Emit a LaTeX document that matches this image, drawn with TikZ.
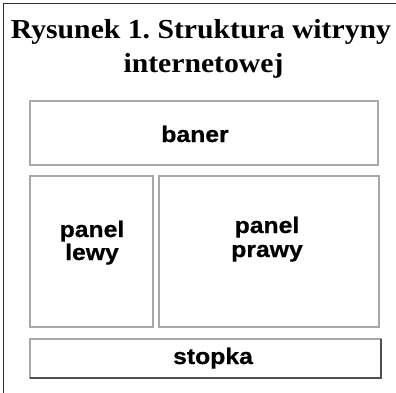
\documentclass[tikz,border=0pt]{standalone}
\usepackage{fontspec}
\setmainfont{Liberation Serif}
\newfontfamily\titlefont[FakeStretch=1.08]{Liberation Serif Bold}
\newfontfamily\boxfont[FakeStretch=1.1,FakeBold=0.6]{Liberation Sans Bold}
\definecolor{boxgray}{HTML}{A8A8A8}
\definecolor{framegray}{HTML}{303030}
\definecolor{darkedge}{HTML}{505050}
\tikzset{
  box/.style={draw=boxgray, line width=1.6pt},
  frame/.style={draw=framegray, line width=1.2pt},
  title/.style={font=\titlefont\frenchspacing\fontsize{27.5}{34}\selectfont, anchor=base, inner sep=0pt},
  lbl/.style={font=\boxfont\fontsize{22.5}{23}\selectfont, anchor=base, inner sep=0pt},
}
\begin{document}
\begin{tikzpicture}[x=1pt,y=-1pt]
\useasboundingbox (0,0) rectangle (396,392);
% outer frame (left and top edges visible)
\draw[frame] (3.5,400) -- (3.5,3.5) -- (400,3.5);
% title
\node[title] (t1) at (201,38) {Rysunek 1. Struktura witryny};
\node[title] (t2) at (203.5,72) {internetowej};
% boxes
\path[box] (30,101) rectangle (378,165);
\node[inner sep=0pt, minimum width=348pt, minimum height=64pt] (baner) at (204,133) {};
\path[box] (30,176) rectangle (153,327);
\node[inner sep=0pt, minimum width=123pt, minimum height=151pt] (lewy) at (91.5,251.5) {};
\path[box] (159,176) rectangle (379,327);
\node[inner sep=0pt, minimum width=220pt, minimum height=151pt] (prawy) at (269,251.5) {};
\path[box] (30,339) rectangle (381,378);
\draw[draw=darkedge, line width=1.6pt] (30,378) -- (381,378) -- (381,339);
\node[inner sep=0pt, minimum width=351pt, minimum height=39pt] (stopka) at (205.5,358.5) {};
% labels
\node[lbl] (lb) at (195,142) {baner};
\node[lbl] (ll1) at (92,237) {panel};
\node[lbl] (ll2) at (92,260) {lewy};
\node[lbl] (lp1) at (267,233) {panel};
\node[lbl] (lp2) at (267,257) {prawy};
\node[lbl] (ls) at (213,364) {stopka};
\end{tikzpicture}
\end{document}
